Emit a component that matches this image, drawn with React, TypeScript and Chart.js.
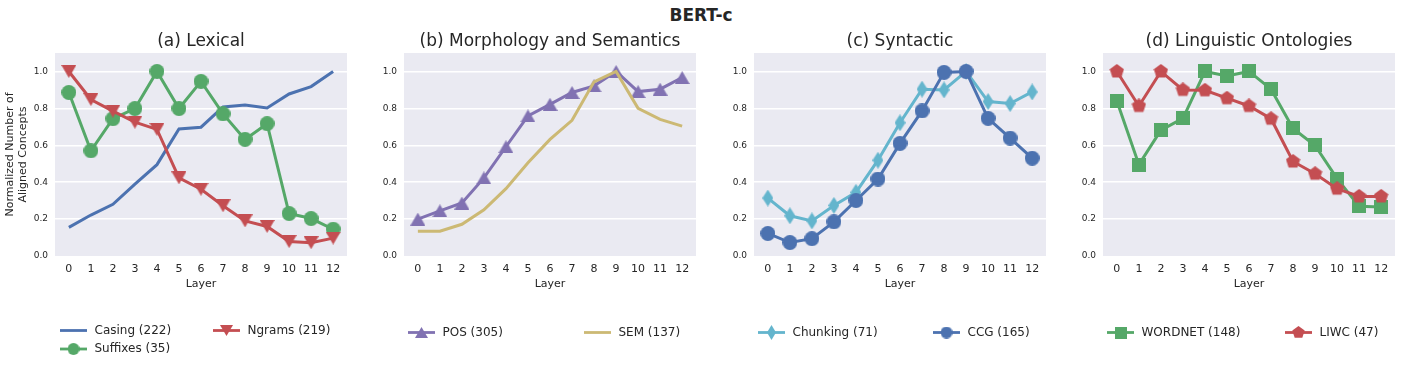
import React, { useEffect, useRef } from 'react';
import { Chart, registerables } from 'chart.js';

Chart.register(...registerables);
Chart.defaults.font.family = "'DejaVu Sans', sans-serif";

// ---------- data ----------
const layers = [0, 1, 2, 3, 4, 5, 6, 7, 8, 9, 10, 11, 12];
const yTickValues = [0, 0.2, 0.4, 0.6, 0.8, 1.0];

const casing = [0.155, 0.222, 0.28, 0.39, 0.495, 0.688, 0.698, 0.808, 0.818, 0.802, 0.878, 0.918, 1.0];
const suffixes = [0.886, 0.57, 0.744, 0.799, 1.0, 0.799, 0.946, 0.77, 0.632, 0.717, 0.23, 0.203, 0.145];
const ngrams = [1.0, 0.848, 0.785, 0.725, 0.686, 0.423, 0.362, 0.272, 0.19, 0.16, 0.078, 0.072, 0.097];
const pos = [0.2, 0.245, 0.287, 0.423, 0.592, 0.759, 0.822, 0.886, 0.922, 1.0, 0.891, 0.904, 0.967];
const sem = [0.134, 0.134, 0.172, 0.25, 0.365, 0.505, 0.632, 0.735, 0.944, 1.0, 0.8, 0.74, 0.704];
const chunking = [0.314, 0.218, 0.19, 0.274, 0.345, 0.519, 0.722, 0.904, 0.9, 1.0, 0.837, 0.826, 0.889];
const ccg = [0.122, 0.073, 0.094, 0.185, 0.301, 0.417, 0.61, 0.786, 0.995, 1.0, 0.746, 0.639, 0.53];
const wordnet = [0.84, 0.495, 0.682, 0.746, 1.0, 0.976, 1.0, 0.904, 0.691, 0.599, 0.419, 0.269, 0.265];
const liwc = [1.0, 0.813, 1.0, 0.9, 0.898, 0.855, 0.813, 0.744, 0.512, 0.446, 0.365, 0.323, 0.323];

const mainTitle = 'BERT-c';
const subTitles = ['(a) Lexical', '(b) Morphology and Semantics', '(c) Syntactic', '(d) Linguistic Ontologies'];
const yAxisTitle = ['Normalized Number of', 'Aligned Concepts'];
const xAxisTitle = 'Layer';

// ---------- styles ----------
const BLUE = '#4C72B0';
const GREEN = '#55A868';
const RED = '#C44E52';
const PURPLE = '#8172B2';
const GOLD = '#CCB974';
const CYAN = '#64B5CD';
const BG = '#EAEAF2';
const TEXT = '#262626';

type Shape = 'circle' | 'triDown' | 'triUp' | 'thinDiamond' | 'square' | 'pentagon' | null;

function makeMarker(shape: Shape, color: string, w: number, h: number) {
  const c = document.createElement('canvas');
  c.width = w;
  c.height = h;
  const g = c.getContext('2d')!;
  g.fillStyle = color;
  g.beginPath();
  if (shape === 'circle') {
    g.arc(w / 2, h / 2, Math.min(w, h) / 2, 0, Math.PI * 2);
  } else if (shape === 'triDown') {
    g.moveTo(0, 0); g.lineTo(w, 0); g.lineTo(w / 2, h);
  } else if (shape === 'triUp') {
    g.moveTo(w / 2, 0); g.lineTo(w, h); g.lineTo(0, h);
  } else if (shape === 'thinDiamond') {
    g.moveTo(w / 2, 0); g.lineTo(w, h / 2); g.lineTo(w / 2, h); g.lineTo(0, h / 2);
  } else if (shape === 'square') {
    g.rect(0, 0, w, h);
  } else if (shape === 'pentagon') {
    const r = Math.min(w, h) / 2;
    for (let i = 0; i < 5; i++) {
      const a = (-90 + 72 * i) * Math.PI / 180;
      const px = w / 2 + r * Math.cos(a);
      const py = h / 2 + r * Math.sin(a);
      if (i === 0) g.moveTo(px, py); else g.lineTo(px, py);
    }
  }
  g.closePath();
  g.fill();
  return c;
}

type Series = { label: string; values: number[]; color: string; shape: Shape; mw: number; mh: number; lw: number; lh: number };

type Panel = {
  title: string;
  canvasLeft: number;
  yTitle: boolean;
  series: Series[];
  legend: { idx: number; x: number; y: number }[];
};

const panels: Panel[] = [
  {
    title: subTitles[0], canvasLeft: 0, yTitle: true,
    series: [
      { label: 'Casing (222)', values: casing, color: BLUE, shape: null, mw: 0, mh: 0, lw: 0, lh: 0 },
      { label: 'Suffixes (35)', values: suffixes, color: GREEN, shape: 'circle', mw: 15, mh: 15, lw: 12, lh: 12 },
      { label: 'Ngrams (219)', values: ngrams, color: RED, shape: 'triDown', mw: 15, mh: 13, lw: 13, lh: 11 },
    ],
    legend: [ { idx: 0, x: 60, y: 330.5 }, { idx: 1, x: 60, y: 349 }, { idx: 2, x: 213, y: 330.5 } ],
  },
  {
    title: subTitles[1], canvasLeft: 349, yTitle: false,
    series: [
      { label: 'POS (305)', values: pos, color: PURPLE, shape: 'triUp', mw: 15, mh: 13, lw: 13, lh: 11 },
      { label: 'SEM (137)', values: sem, color: GOLD, shape: null, mw: 0, mh: 0, lw: 0, lh: 0 },
    ],
    legend: [ { idx: 0, x: 408, y: 332.5 }, { idx: 1, x: 584, y: 332.5 } ],
  },
  {
    title: subTitles[2], canvasLeft: 699, yTitle: false,
    series: [
      { label: 'Chunking (71)', values: chunking, color: CYAN, shape: 'thinDiamond', mw: 11, mh: 17, lw: 9, lh: 15 },
      { label: 'CCG (165)', values: ccg, color: BLUE, shape: 'circle', mw: 15, mh: 15, lw: 12, lh: 12 },
    ],
    legend: [ { idx: 0, x: 758, y: 332.5 }, { idx: 1, x: 933, y: 332.5 } ],
  },
  {
    title: subTitles[3], canvasLeft: 1048, yTitle: false,
    series: [
      { label: 'WORDNET (148)', values: wordnet, color: GREEN, shape: 'square', mw: 14, mh: 14, lw: 12, lh: 12 },
      { label: 'LIWC (47)', values: liwc, color: RED, shape: 'pentagon', mw: 15, mh: 15, lw: 13, lh: 13 },
    ],
    legend: [ { idx: 0, x: 1107, y: 332.5 }, { idx: 1, x: 1285, y: 332.5 } ],
  },
];

const Y_AXIS_W = 55;
const PLOT_W = 292;
const RIGHT_PAD = 5;
const CANVAS_W = Y_AXIS_W + PLOT_W + RIGHT_PAD;
const CANVAS_H = 368;
const PLOT_TOP = 53;
const PLOT_BOTTOM = 256;
const X_AXIS_H = 40;

function PanelChart({ panel }: { panel: Panel }) {
  const ref = useRef<HTMLCanvasElement>(null);
  useEffect(() => {
    const canvas = ref.current!;
    const markers = panel.series.map(s => (s.shape ? makeMarker(s.shape, s.color, s.mw, s.mh) : null));
    const legendMarkers = panel.series.map(s => (s.shape ? makeMarker(s.shape, s.color, s.lw, s.lh) : null));
    const n = panel.series.length;

    const decor = {
      id: 'decor',
      beforeDraw(chart: any) {
        const { ctx, chartArea: a } = chart;
        ctx.save();
        ctx.fillStyle = BG;
        ctx.fillRect(a.left, a.top, a.right - a.left, a.bottom - a.top);
        ctx.restore();
      },
      afterDraw(chart: any) {
        const { ctx, chartArea: a } = chart;
        ctx.save();
        ctx.fillStyle = TEXT;
        ctx.font = "17px 'DejaVu Sans', sans-serif";
        ctx.textAlign = 'center';
        ctx.textBaseline = 'middle';
        ctx.fillText(panel.title, (a.left + a.right) / 2, 42);
        // legend
        ctx.font = "12px 'DejaVu Sans', sans-serif";
        ctx.textAlign = 'left';
        for (const it of panel.legend) {
          const s = panel.series[it.idx];
          const x0 = it.x - panel.canvasLeft;
          ctx.strokeStyle = s.color;
          ctx.lineWidth = 2.8;
          ctx.beginPath();
          ctx.moveTo(x0, it.y);
          ctx.lineTo(x0 + 27, it.y);
          ctx.stroke();
          const m = legendMarkers[it.idx];
          if (m) ctx.drawImage(m, x0 + 13.5 - m.width / 2, it.y - m.height / 2);
          ctx.fillStyle = TEXT;
          ctx.fillText(s.label, x0 + 34.5, it.y);
        }
        ctx.restore();
      },
    };

    const chart = new Chart(canvas, {
      type: 'line',
      data: {
        datasets: panel.series.map((s, i) => ({
          label: s.label,
          data: layers.map((x, j) => ({ x, y: s.values[j] })),
          borderColor: s.color,
          backgroundColor: s.color,
          borderWidth: 3,
          pointStyle: markers[i] ? (markers[i] as any) : 'circle',
          pointRadius: markers[i] ? 7 : 0,
          pointHoverRadius: markers[i] ? 7 : 0,
          tension: 0,
          fill: false,
          order: n - i,
        })),
      },
      options: {
        animation: false,
        responsive: false,
        events: [],
        layout: {
          autoPadding: false,
          padding: { top: PLOT_TOP, left: 0, right: RIGHT_PAD, bottom: CANVAS_H - PLOT_BOTTOM - X_AXIS_H },
        },
        plugins: { legend: { display: false }, tooltip: { enabled: false }, title: { display: false } },
        scales: {
          x: {
            type: 'linear',
            min: -0.63,
            max: 12.63,
            bounds: 'data',
            offset: false,
            grid: { display: false, drawTicks: false, tickLength: 0 },
            border: { display: false },
            ticks: { color: TEXT, font: { size: 11 }, padding: 7, autoSkip: false, maxRotation: 0, callback: (v: any) => String(v) },
            title: { display: true, text: xAxisTitle, color: TEXT, font: { size: 11 }, padding: { top: 4, bottom: 5.4 } },
            afterBuildTicks: (scale: any) => { scale.ticks = layers.map(v => ({ value: v })); },
            afterFit: (scale: any) => { scale.height = X_AXIS_H; scale.paddingLeft = 0; scale.paddingRight = 0; },
          },
          y: {
            type: 'linear',
            min: 0,
            max: 1.1,
            bounds: 'data',
            grid: {
              color: (ctx: any) => (ctx.tick && ctx.tick.value === 0 ? 'rgba(0,0,0,0)' : '#ffffff'),
              lineWidth: 1.5,
              drawTicks: false,
              tickLength: 0,
            },
            border: { display: false },
            ticks: { color: TEXT, font: { size: 9 }, padding: 7, callback: (v: any) => Number(v).toFixed(1) },
            title: { display: panel.yTitle, text: yAxisTitle, color: TEXT, font: { size: 11 }, padding: { top: 3.5, bottom: 0 } },
            afterBuildTicks: (scale: any) => { scale.ticks = yTickValues.map(v => ({ value: v })); },
            afterFit: (scale: any) => { scale.width = Y_AXIS_W; scale.paddingTop = 0; scale.paddingBottom = 0; },
          },
        },
      } as any,
      plugins: [decor],
    });
    return () => chart.destroy();
  }, [panel]);

  return (
    <canvas
      ref={ref}
      width={CANVAS_W}
      height={CANVAS_H}
      style={{ position: 'absolute', left: panel.canvasLeft, top: 0, width: CANVAS_W, height: CANVAS_H }}
    />
  );
}

export default function App() {
  return (
    <div style={{ position: 'fixed', left: 0, top: 0, width: 1402, height: 368, background: '#ffffff', overflow: 'hidden' }}>
      <div
        style={{
          position: 'absolute', left: 0, top: 0, width: 1402, height: 30, lineHeight: '30px', textAlign: 'center',
          fontFamily: "'DejaVu Sans', sans-serif", fontWeight: 'bold', fontSize: 17, color: TEXT,
        }}
      >
        {mainTitle}
      </div>
      {panels.map((p, i) => (
        <PanelChart key={i} panel={p} />
      ))}
    </div>
  );
}
